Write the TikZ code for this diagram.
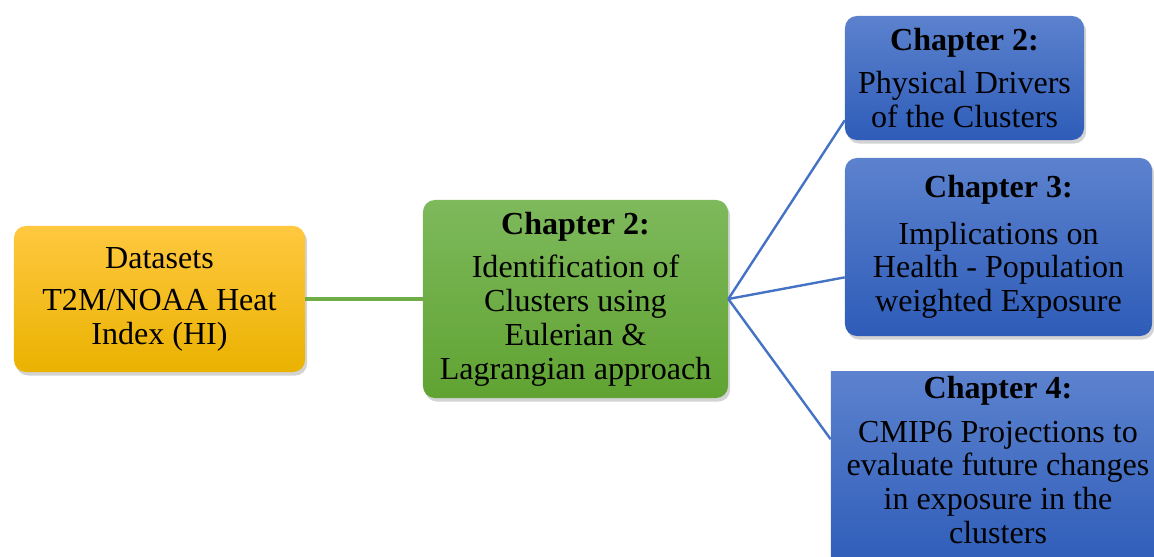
\documentclass[tikz,border=0pt]{standalone}
\usepackage{fontspec}
\setmainfont{Liberation Serif}
\usepackage{tikz}
\usetikzlibrary{calc}
\usetikzlibrary{shadows}

\definecolor{goldtop}{RGB}{255,200,64}
\definecolor{goldbot}{RGB}{234,178,0}
\definecolor{greentop}{RGB}{126,185,92}
\definecolor{greenbot}{RGB}{96,163,50}
\definecolor{bluetop}{RGB}{92,130,206}
\definecolor{bluebot}{RGB}{46,92,184}
\definecolor{linkgreen}{RGB}{112,173,71}
\definecolor{linkblue}{RGB}{68,114,196}

\begin{document}
\begin{tikzpicture}[x=0.025cm,y=-0.025cm,
    chapbox/.style={rounded corners=0.3cm, align=center, inner sep=0pt,
      font=\fontsize{22.8}{24}\selectfont,
      drop shadow={opacity=0.35,shadow xshift=1.5pt,shadow yshift=-2.5pt}},
    databox/.style={chapbox, top color=goldtop, bottom color=goldbot},
    mainbox/.style={chapbox, top color=greentop, bottom color=greenbot},
    outbox/.style={chapbox, top color=bluetop, bottom color=bluebot},
    greenlink/.style={draw=linkgreen, line width=2.4pt},
    bluelink/.style={draw=linkblue, line width=1.7pt}]
    \useasboundingbox (0,0) rectangle (1154,557);
    \clip (0,0) rectangle (1154,557);
    % left: input data
    \node[databox, minimum width=7.275cm, minimum height=3.65cm] (data) at (159.5,299)
      {Datasets\\[6pt] T2M/NOAA Heat\\ Index (HI)};
    % middle: chapter 2
    \node[mainbox, minimum width=7.625cm, minimum height=4.95cm] (ident) at (575.5,299)
      {\textbf{Chapter 2:}\\[7pt] Identification of\\ Clusters using\\ Eulerian \&\\ Lagrangian approach};
    % right: outcomes
    \node[outbox, minimum width=5.975cm, minimum height=3.1cm] (drivers) at (964.5,78)
      {\textbf{Chapter 2:}\\[7pt] Physical Drivers\\ of the Clusters};
    \node[outbox, minimum width=7.675cm, minimum height=4.45cm] (health) at (998.5,247)
      {\textbf{Chapter 3:}\\[9pt] Implications on\\ Health - Population\\ weighted Exposure};
    \node[outbox, sharp corners, minimum width=8.35cm, minimum height=4.95cm] (cmip) at (998,471)
      {\textbf{Chapter 4:}\\[7pt] CMIP6 Projections to\\ evaluate future changes\\ in exposure in the\\ clusters\rule[-16pt]{0pt}{0pt}};
    % links
    \draw[greenlink] (data.east) -- (ident.west);
    \draw[bluelink] (ident.east) -- ($(drivers.south west)!0.16!(drivers.north west)$);
    \draw[bluelink] (ident.east) -- ($(health.south west)!0.33!(health.north west)$);
    \draw[bluelink] (ident.east) -- ($(cmip.north west)!0.34!(cmip.south west)$);
  \end{tikzpicture}
\end{document}
